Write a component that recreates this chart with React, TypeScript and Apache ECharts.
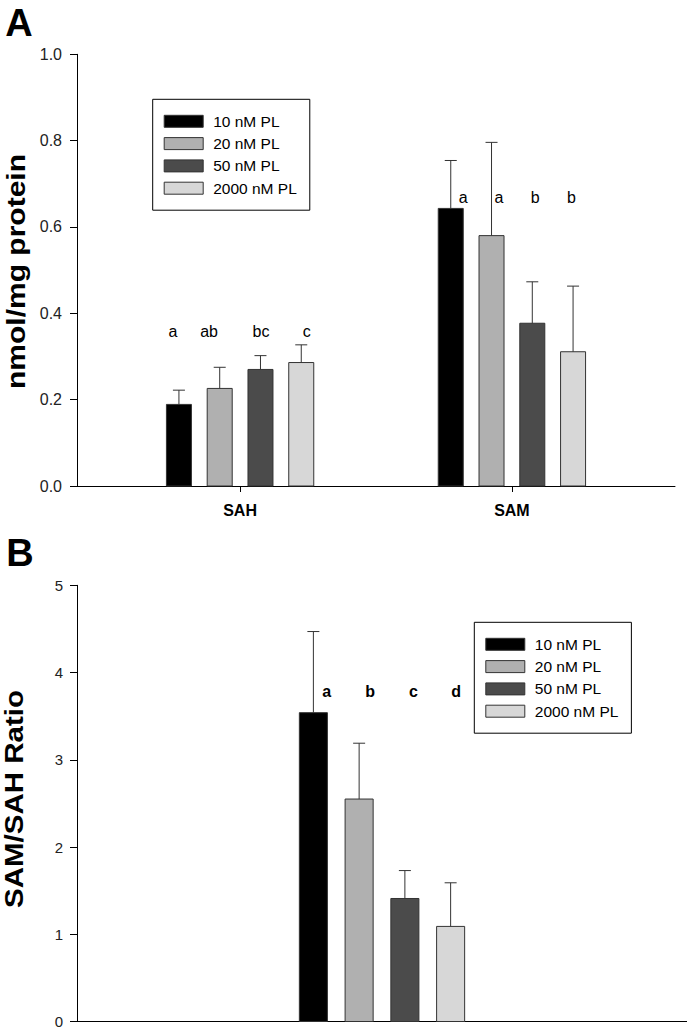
import React, { useEffect, useRef } from "react";
import * as echarts from "echarts";

// ---------- data ----------
const groups = ["10 nM PL", "20 nM PL", "50 nM PL", "2000 nM PL"];
const categoriesA = ["SAH", "SAM"];
const sahMean = [0.189, 0.226, 0.27, 0.286];
const sahErr = [0.033, 0.049, 0.032, 0.041];
const samMean = [0.643, 0.58, 0.377, 0.311];
const samErr = [0.111, 0.216, 0.096, 0.152];
const ratioMean = [3.54, 2.55, 1.41, 1.09];
const ratioErr = [0.93, 0.64, 0.32, 0.5];
const lettersSAH = ["a", "ab", "bc", "c"];
const lettersSAM = ["a", "a", "b", "b"];
const lettersRatio = ["a", "b", "c", "d"];

// ---------- layout / style ----------
const colors = ["#000000", "#b0b0b0", "#4b4b4b", "#d7d7d7"];
const FONT = "'Liberation Sans', Arial, Helvetica, sans-serif";
const barOffsets = [-0.225, -0.075, 0.075, 0.225];
const barWidthUnits = 0.092;
const capHalf = 6;
const letterOffSAH = [-0.247, -0.114, 0.077, 0.245];
const letterOffSAM = [-0.179, -0.048, 0.086, 0.219];
const letterOffRatio = [-0.181, -0.039, 0.103, 0.243];
const letterLevelSAH = 0.357;
const letterLevelSAM = 0.668;
const letterLevelRatio = 3.785;

function barSeries(name: string, idx: number, data: number[][], gridIdx: number) {
  return {
    type: "custom",
    name,
    xAxisIndex: gridIdx,
    yAxisIndex: gridIdx,
    clip: false,
    encode: { x: 0, y: 1 },
    itemStyle: { color: colors[idx], borderColor: "#333", borderWidth: 1 },
    data,
    renderItem: (params: any, api: any) => {
      const x = api.value(0) + barOffsets[idx];
      const v = api.value(1);
      const e = api.value(2);
      const base = api.coord([x, 0]);
      const top = api.coord([x, v]);
      const errTop = api.coord([x, v + e]);
      const w = api.size([barWidthUnits, 0])[0];
      return {
        type: "group",
        children: [
          {
            type: "rect",
            shape: { x: top[0] - w / 2, y: top[1], width: w, height: base[1] - top[1] },
            style: { fill: colors[idx], stroke: "#333", lineWidth: 1 },
          },
          {
            type: "line",
            shape: { x1: top[0], y1: top[1], x2: top[0], y2: errTop[1] },
            style: { stroke: "#333", lineWidth: 1 },
          },
          {
            type: "line",
            shape: { x1: top[0] - capHalf, y1: errTop[1], x2: top[0] + capHalf, y2: errTop[1] },
            style: { stroke: "#333", lineWidth: 1 },
          },
        ],
      };
    },
  };
}

function letterSeries(labels: string[], data: number[][], gridIdx: number, bold: boolean) {
  return {
    type: "custom",
    xAxisIndex: gridIdx,
    yAxisIndex: gridIdx,
    clip: false,
    silent: true,
    encode: { x: 0, y: 1 },
    data,
    renderItem: (params: any, api: any) => {
      const p = api.coord([api.value(0), api.value(1)]);
      return {
        type: "text",
        x: p[0],
        y: p[1],
        style: {
          text: labels[params.dataIndex],
          fill: "#000",
          font: `${bold ? "bold " : ""}16px ${FONT}`,
          align: "center",
          verticalAlign: "middle",
        },
      };
    },
  };
}

function legendAt(left: number, top: number) {
  return {
    orient: "vertical",
    left,
    top,
    padding: [14, 13, 14, 11],
    itemWidth: 39,
    itemHeight: 12,
    itemGap: 6.3,
    borderColor: "#000",
    borderWidth: 1,
    icon: "rect",
    selectedMode: false,
    textStyle: { fontSize: 15.5, color: "#000", fontFamily: FONT, lineHeight: 15, padding: [0, 0, 0, 5] },
    data: groups.map((g, i) => ({
      name: g,
      icon: "rect",
      itemStyle: { color: colors[i], borderColor: "#333", borderWidth: 1 },
    })),
  };
}

export default function App() {
  const ref = useRef<HTMLDivElement>(null);
  useEffect(() => {
    if (!ref.current) return;
    const chart = echarts.init(ref.current, null, { renderer: "svg" });
    const series: any[] = [];
    groups.forEach((g, i) => {
      series.push(barSeries(g, i, [[0, sahMean[i], sahErr[i]], [1, samMean[i], samErr[i]]], 0));
    });
    groups.forEach((g, i) => {
      series.push(barSeries(g, i, [[0, ratioMean[i], ratioErr[i]]], 1));
    });
    series.push(letterSeries(lettersSAH, lettersSAH.map((_, i) => [0 + letterOffSAH[i], letterLevelSAH]), 0, false));
    series.push(letterSeries(lettersSAM, lettersSAM.map((_, i) => [1 + letterOffSAM[i], letterLevelSAM]), 0, false));
    series.push(letterSeries(lettersRatio, lettersRatio.map((_, i) => [0 + letterOffRatio[i], letterLevelRatio]), 1, true));

    const axisLabelStyle = { color: "#222", fontSize: 16, fontFamily: FONT };
    const option: any = {
      animation: false,
      backgroundColor: "#fff",
      textStyle: { fontFamily: FONT },
      grid: [
        { left: 77, right: 12, top: 54.3, height: 431.7 },
        { left: 77, right: 0, top: 585.3, height: 438 },
      ],
      xAxis: [
        {
          gridIndex: 0,
          type: "value",
          min: -0.6,
          max: 1.6,
          splitLine: { show: false },
          axisLine: { onZero: false, lineStyle: { color: "#000", width: 1 } },
          axisTick: { show: true, customValues: [0, 1], length: 6, lineStyle: { color: "#000" } },
          axisLabel: {
            customValues: [0, 1],
            formatter: (v: number) => categoriesA[Math.round(v)] ?? "",
            fontWeight: "bold",
            fontSize: 16,
            color: "#000",
            fontFamily: FONT,
            margin: 16,
          },
        },
        {
          gridIndex: 1,
          type: "value",
          min: -1,
          max: 1,
          splitLine: { show: false },
          axisLine: { onZero: false, lineStyle: { color: "#000", width: 1 } },
          axisTick: { show: false },
          axisLabel: { show: false },
        },
      ],
      yAxis: [
        {
          gridIndex: 0,
          type: "value",
          min: 0,
          max: 1,
          interval: 0.2,
          splitLine: { show: false },
          axisLine: { show: true, onZero: false, lineStyle: { color: "#000", width: 1 } },
          axisTick: { show: true, length: 7, lineStyle: { color: "#000" } },
          axisLabel: { ...axisLabelStyle, margin: 15, formatter: (v: number) => v.toFixed(1) },
        },
        {
          gridIndex: 1,
          type: "value",
          min: 0,
          max: 5,
          interval: 1,
          splitLine: { show: false },
          axisLine: { show: true, onZero: false, lineStyle: { color: "#000", width: 1 } },
          axisTick: { show: true, length: 7, lineStyle: { color: "#000" } },
          axisLabel: { ...axisLabelStyle, fontSize: 15, margin: 14 },
        },
      ],
      legend: [legendAt(152.7, 99.3), legendAt(474.3, 622.3)],
      graphic: [
        {
          type: "text",
          x: 19,
          y: 23,
          style: { text: "A", font: `bold 38px ${FONT}`, fill: "#000", align: "center", verticalAlign: "middle" },
        },
        {
          type: "text",
          x: 20,
          y: 553,
          style: { text: "B", font: `bold 38px ${FONT}`, fill: "#000", align: "center", verticalAlign: "middle" },
        },
        {
          type: "text",
          x: 16.3,
          y: 271.5,
          rotation: Math.PI / 2,
          scaleX: 1.2,
          style: {
            text: "nmol/mg protein",
            font: `bold 25px ${FONT}`,
            fill: "#000",
            align: "center",
            verticalAlign: "middle",
          },
        },
        {
          type: "text",
          x: 14.3,
          y: 799,
          rotation: Math.PI / 2,
          scaleX: 1.18,
          style: {
            text: "SAM/SAH Ratio",
            font: `bold 25px ${FONT}`,
            fill: "#000",
            align: "center",
            verticalAlign: "middle",
          },
        },
      ],
      series,
    };
    chart.setOption(option);
    return () => chart.dispose();
  }, []);
  return (
    <div
      ref={ref}
      style={{ position: "absolute", left: 0, top: 0, width: 687, height: 1029, background: "#fff" }}
    />
  );
}
